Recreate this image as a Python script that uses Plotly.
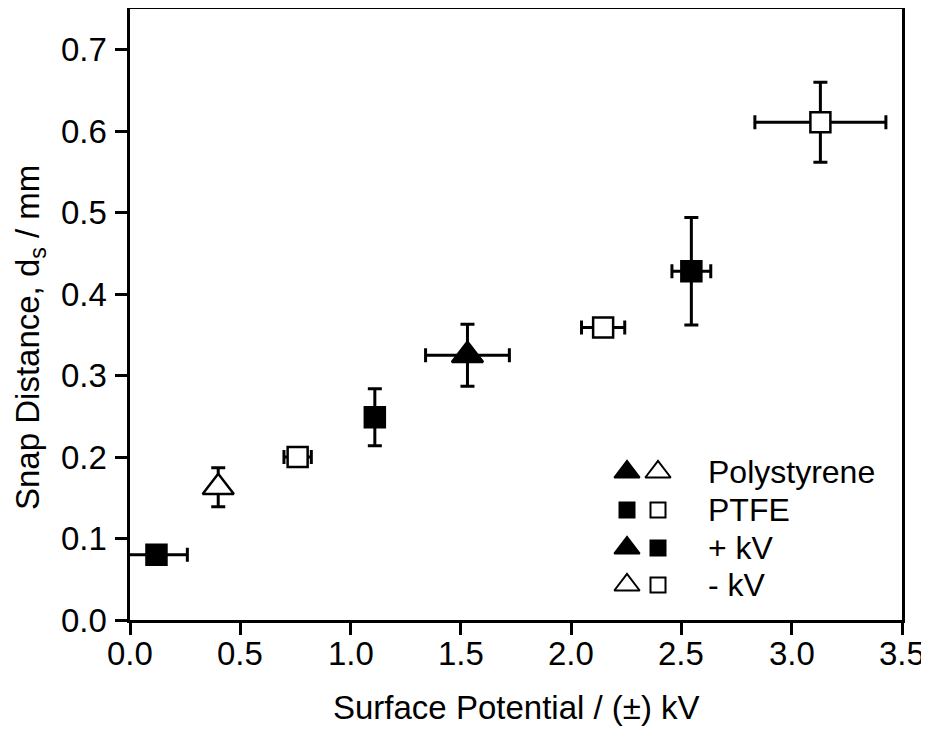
import plotly.graph_objects as go

# ---------------- data ----------------
ps_pos_x = [1.53]
ps_pos_y = [0.325]
ps_pos_xerr = [0.19]
ps_pos_yerr = [0.038]

ps_neg_x = [0.40]
ps_neg_y = [0.163]
ps_neg_xerr = [0.0]
ps_neg_yerr = [0.024]

ptfe_pos_x = [0.12, 1.11, 2.545]
ptfe_pos_y = [0.080, 0.249, 0.428]
ptfe_pos_xerr = [0.14, 0.0, 0.088]
ptfe_pos_yerr = [0.0, 0.035, 0.066]

ptfe_neg_x = [0.76, 2.145, 3.13]
ptfe_neg_y = [0.200, 0.359, 0.611]
ptfe_neg_xerr = [0.062, 0.098, 0.297]
ptfe_neg_yerr = [0.0, 0.0, 0.049]

x_ticks = [0.0, 0.5, 1.0, 1.5, 2.0, 2.5, 3.0, 3.5]
y_ticks = [0.0, 0.1, 0.2, 0.3, 0.4, 0.5, 0.6, 0.7]
x_tick_labels = ["0.0", "0.5", "1.0", "1.5", "2.0", "2.5", "3.0", "3.5"]
y_tick_labels = ["0.0", "0.1", "0.2", "0.3", "0.4", "0.5", "0.6", "0.7"]

x_title = "Surface Potential / (±) kV"
y_title = "Snap Distance, d<sub>s</sub> / mm"

legend_labels = ["Polystyrene", "PTFE", "+ kV", "- kV"]
legend_symbols = [("triangle-up", "black"), ("triangle-up", "white"),
                  ("square", "black"), ("square", "white"),
                  ("triangle-up", "black"), ("square", "black"),
                  ("triangle-up", "white"), ("square", "white")]

FONT = "Liberation Sans, Arial, sans-serif"
FS_TICK = 33
FS = 33
FS_LEG = 32

def err(vals):
    return dict(type="data", array=vals, visible=True, color="black",
                thickness=3, width=7)

fig = go.Figure()

def add(x, y, xe, ye, symbol, fill, size):
    fig.add_trace(go.Scatter(
        x=x, y=y, mode="markers",
        error_x=err(xe), error_y=err(ye),
        marker=dict(symbol=symbol, size=size, color=fill,
                    line=dict(color="black", width=2.5)),
        showlegend=False, hoverinfo="skip"))

add(ps_pos_x, ps_pos_y, ps_pos_xerr, ps_pos_yerr, "triangle-up", "black", 27)
add(ps_neg_x, ps_neg_y, ps_neg_xerr, ps_neg_yerr, "triangle-up", "white", 27)
add(ptfe_pos_x, ptfe_pos_y, ptfe_pos_xerr, ptfe_pos_yerr, "square", "black", 20)
add(ptfe_neg_x, ptfe_neg_y, ptfe_neg_xerr, ptfe_neg_yerr, "square", "white", 20)

# ---------------- custom legend (overlay axes in plot-pixel units) ----------------
PW, PH = 772, 611
row_y = [148, 110, 72, 35]
sym_x = [497, 528]
for r in range(4):
    for c in range(2):
        sym, fill = legend_symbols[2 * r + c]
        fig.add_trace(go.Scatter(
            x=[sym_x[c]], y=[row_y[r]], mode="markers", xaxis="x2", yaxis="y2",
            marker=dict(symbol=sym, size=22 if sym == "triangle-up" else 15,
                        color=fill, line=dict(color="black", width=2)),
            showlegend=False, hoverinfo="skip", cliponaxis=False))
    fig.add_annotation(x=576, y=row_y[r], xref="x2", yref="y2",
                       text=legend_labels[r], showarrow=False,
                       xanchor="left", yanchor="middle",
                       font=dict(family=FONT, size=FS_LEG, color="black"))

# ---------------- tick labels and axis titles ----------------
for v, t in zip(x_ticks, x_tick_labels):
    fig.add_annotation(x=v, y=0, xref="x", yref="paper", text=t,
                       showarrow=False, xanchor="center", yanchor="middle",
                       yshift=-33,
                       font=dict(family=FONT, size=FS_TICK, color="black"))
for v, t in zip(y_ticks, y_tick_labels):
    fig.add_annotation(x=0, y=v, xref="paper", yref="y", text=t,
                       showarrow=False, xanchor="right", yanchor="middle",
                       xshift=-21,
                       font=dict(family=FONT, size=FS_TICK, color="black"))
fig.add_annotation(x=0.5, y=0, xref="paper", yref="paper", text=x_title,
                   showarrow=False, xanchor="center", yanchor="middle",
                   yshift=-87, font=dict(family=FONT, size=FS, color="black"))
fig.add_annotation(x=0, y=0.4615, xref="paper", yref="paper", text=y_title,
                   showarrow=False, xanchor="center", yanchor="middle",
                   textangle=-90, xshift=-100,
                   font=dict(family=FONT, size=FS, color="black"))

axis_common = dict(
    showgrid=False, zeroline=False, showline=True, linecolor="black",
    linewidth=3, mirror=True, ticks="outside", ticklen=12, tickwidth=3,
    tickcolor="black", showticklabels=False, automargin=False,
)

fig.update_layout(
    width=921, height=727,
    margin=dict(l=122, r=27, t=1, b=115),
    paper_bgcolor="white", plot_bgcolor="white",
    font=dict(family=FONT, size=FS, color="black"),
    xaxis=dict(range=[0, 3.5], tickvals=x_ticks, **axis_common),
    yaxis=dict(range=[0, 0.75], tickvals=y_ticks, **axis_common),
    xaxis2=dict(range=[0, PW], overlaying="x", visible=False, fixedrange=True),
    yaxis2=dict(range=[0, PH], overlaying="y", visible=False, fixedrange=True),
)

fig.write_html("out.html", config={"displayModeBar": False})
